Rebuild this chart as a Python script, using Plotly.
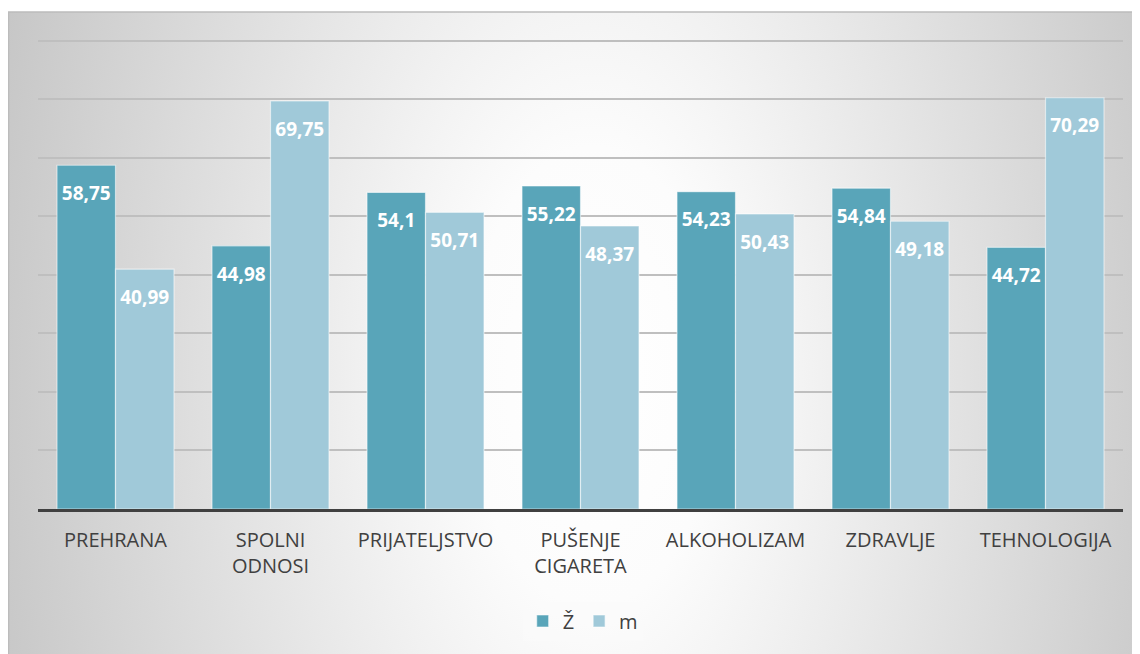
import base64
import plotly.graph_objects as go

categories = ["PREHRANA", "SPOLNI<br>ODNOSI", "PRIJATELJSTVO", "PUŠENJE<br>CIGARETA",
              "ALKOHOLIZAM", "ZDRAVLJE", "TEHNOLOGIJA"]
zenski = [58.75, 44.98, 54.1, 55.22, 54.23, 54.84, 44.72]
muski = [40.99, 69.75, 50.71, 48.37, 50.43, 49.18, 70.29]
series_names = ["Ž", "m"]

def fmt(v):
    return "<span style='font-size:7px'>&nbsp;</span><br>" + str(v).replace(".", ",")

# page has an 8px body margin, so the figure starts at (8, 8) of the window
W, H = 1132, 646
L, R, T, B = 30, 17, 30, 145
pw = W - L - R
ph = H - T - B

GW, GH = 1132, 642
svg = ('<svg xmlns="http://www.w3.org/2000/svg" width="%d" height="%d" viewBox="0 0 %d %d" preserveAspectRatio="none">'
       '<defs><radialGradient id="g" gradientUnits="userSpaceOnUse" cx="0" cy="0" r="1" '
       'gradientTransform="translate(585 365) scale(625 1150)">'
       '<stop offset="0" stop-color="#ffffff"/><stop offset="0.2" stop-color="#fcfcfc"/>'
       '<stop offset="1" stop-color="#c6c6c6"/></radialGradient></defs>'
       '<rect width="%d" height="%d" fill="url(#g)"/></svg>') % (GW, GH, GW, GH, GW, GH)
src = "data:image/svg+xml;base64," + base64.b64encode(svg.encode()).decode()

x0 = (0 - L) / pw
x1 = (W - L) / pw
y0 = (T + ph - 4) / ph
y1 = (T + ph - H) / ph

font_fam = "Open Sans, Noto Sans, sans-serif"
label_font = dict(color="white", size=19, family=font_fam, weight="bold")

fig = go.Figure()
fig.add_trace(go.Bar(
    x=categories, y=zenski, name=series_names[0],
    marker=dict(color="#59a5b9", line=dict(color="rgba(255,255,255,0.55)", width=1.2)),
    text=[fmt(v) for v in zenski], textposition="inside", insidetextanchor="end",
    textfont=label_font, textangle=0,
))
fig.add_trace(go.Bar(
    x=categories, y=muski, name=series_names[1],
    marker=dict(color="#a0c9d9", line=dict(color="rgba(255,255,255,0.55)", width=1.2)),
    text=[fmt(v) for v in muski], textposition="inside", insidetextanchor="end",
    textfont=label_font, textangle=0,
))

fig.update_layout(
    width=W, height=H,
    margin=dict(l=L, r=R, t=T, b=B),
    paper_bgcolor="white", plot_bgcolor="rgba(0,0,0,0)",
    barmode="group", bargap=0.245, bargroupgap=0,
    font=dict(family=font_fam, color="#404040"),
    uniformtext=dict(mode="show", minsize=19),
    showlegend=True,
    legend=dict(orientation="h", x=0.502, xanchor="center", y=(T + ph - 613) / ph, yanchor="middle",
                font=dict(size=20, color="#404040"), bgcolor="rgba(250,250,250,0.45)",
                itemwidth=30, traceorder="normal"),
    images=[dict(source=src, xref="paper", yref="paper", x=x0, y=y0,
                 sizex=x1 - x0, sizey=y0 - y1, sizing="stretch", layer="below",
                 xanchor="left", yanchor="top")],
    shapes=[dict(type="rect", xref="paper", yref="paper", x0=x0 + 0.0005, x1=x1 + 0.01,
                 y0=y1 - 0.01, y1=y0,
                 line=dict(color="#bcbcbc", width=1.5), fillcolor="rgba(0,0,0,0)", layer="below")],
)
fig.update_xaxes(showline=True, linecolor="#404040", linewidth=3, showgrid=False,
                 tickfont=dict(size=20, color="#404040"), ticks="outside", ticklen=11,
                 tickcolor="rgba(0,0,0,0)")
fig.update_yaxes(range=[0, 80.5], dtick=10, showgrid=True, gridcolor="#bfbfbf", gridwidth=1.5,
                 showticklabels=False, zeroline=False, showline=False)

fig.write_html("out.html")
